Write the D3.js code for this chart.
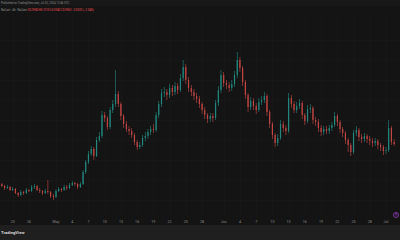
<!DOCTYPE html>
<html>
<head>
<meta charset="utf-8">
<script src="https://cdn.jsdelivr.net/npm/d3@7"></script>
<style>
  html, body { margin: 0; padding: 0; background: #141414; }
  svg { display: block; }
</style>
</head>
<body>
<svg id="chart" width="400" height="240"></svg>
<script>
// 12h candles, first candle opens Apr 20 2024 12:00 UTC
const firstCandle = new Date(Date.UTC(2024, 3, 20, 12));
const firstOpen = 0.055;

const closes = [
  0.056, 0.054, 0.052, 0.053, 0.050, 0.051, 0.047, 0.045, 0.048, 0.047,
  0.050, 0.049, 0.053, 0.054, 0.050, 0.049, 0.047, 0.049, 0.048, 0.044,
  0.043, 0.049, 0.051, 0.050, 0.053, 0.052, 0.055, 0.057, 0.056, 0.053,
  0.056, 0.068, 0.078, 0.086, 0.091, 0.084, 0.100, 0.104, 0.125, 0.122,
  0.113, 0.130, 0.136, 0.146, 0.136, 0.124, 0.116, 0.111, 0.109, 0.105,
  0.098, 0.093, 0.095, 0.102, 0.104, 0.108, 0.111, 0.110, 0.125, 0.136,
  0.147, 0.148, 0.145, 0.152, 0.148, 0.154, 0.150, 0.162, 0.173, 0.160,
  0.152, 0.148, 0.144, 0.141, 0.136, 0.130, 0.125, 0.121, 0.124, 0.122,
  0.137, 0.150, 0.165, 0.157, 0.155, 0.152, 0.156, 0.165, 0.180, 0.172,
  0.158, 0.145, 0.133, 0.139, 0.134, 0.130, 0.138, 0.140, 0.144, 0.128,
  0.116, 0.105, 0.097, 0.102, 0.116, 0.112, 0.109, 0.142, 0.136, 0.130,
  0.134, 0.137, 0.125, 0.119, 0.131, 0.132, 0.120, 0.118, 0.112, 0.108,
  0.111, 0.109, 0.112, 0.115, 0.124, 0.118, 0.111, 0.107, 0.100, 0.095,
  0.088, 0.107, 0.110, 0.103, 0.101, 0.104, 0.101, 0.099, 0.097, 0.099,
  0.095, 0.093, 0.089, 0.090, 0.112, 0.098, 0.096
];

const highs = [
  0.058, 0.057, 0.055, 0.055, 0.054, 0.053, 0.052, 0.048, 0.050, 0.049,
  0.052, 0.051, 0.055, 0.056, 0.055, 0.052, 0.050, 0.051, 0.060, 0.049,
  0.046, 0.051, 0.053, 0.052, 0.055, 0.055, 0.057, 0.059, 0.058, 0.057,
  0.058, 0.070, 0.080, 0.089, 0.094, 0.093, 0.103, 0.108, 0.129, 0.128,
  0.124, 0.133, 0.140, 0.170, 0.149, 0.138, 0.126, 0.119, 0.114, 0.112,
  0.107, 0.100, 0.098, 0.105, 0.108, 0.111, 0.114, 0.116, 0.128, 0.139,
  0.151, 0.153, 0.151, 0.156, 0.155, 0.158, 0.157, 0.166, 0.180, 0.176,
  0.163, 0.155, 0.151, 0.147, 0.144, 0.138, 0.133, 0.127, 0.127, 0.127,
  0.140, 0.154, 0.170, 0.168, 0.160, 0.158, 0.160, 0.169, 0.188, 0.183,
  0.174, 0.160, 0.147, 0.143, 0.142, 0.137, 0.142, 0.144, 0.148, 0.146,
  0.130, 0.118, 0.107, 0.106, 0.120, 0.119, 0.115, 0.147, 0.145, 0.139,
  0.138, 0.141, 0.139, 0.127, 0.135, 0.136, 0.134, 0.123, 0.121, 0.115,
  0.114, 0.114, 0.115, 0.118, 0.128, 0.126, 0.120, 0.113, 0.109, 0.102,
  0.097, 0.110, 0.114, 0.112, 0.106, 0.107, 0.106, 0.104, 0.102, 0.102,
  0.101, 0.097, 0.095, 0.093, 0.120, 0.114, 0.101
];

const lows = [
  0.053, 0.053, 0.050, 0.051, 0.049, 0.049, 0.046, 0.043, 0.044, 0.045,
  0.046, 0.048, 0.048, 0.051, 0.049, 0.047, 0.045, 0.046, 0.046, 0.042,
  0.040, 0.042, 0.048, 0.048, 0.049, 0.050, 0.051, 0.054, 0.054, 0.051,
  0.052, 0.055, 0.066, 0.076, 0.084, 0.080, 0.083, 0.098, 0.102, 0.118,
  0.110, 0.111, 0.127, 0.133, 0.133, 0.120, 0.112, 0.108, 0.105, 0.102,
  0.095, 0.090, 0.091, 0.093, 0.099, 0.101, 0.105, 0.107, 0.108, 0.122,
  0.133, 0.143, 0.140, 0.142, 0.144, 0.145, 0.146, 0.148, 0.159, 0.156,
  0.148, 0.144, 0.140, 0.137, 0.132, 0.126, 0.121, 0.117, 0.118, 0.118,
  0.120, 0.134, 0.147, 0.153, 0.151, 0.148, 0.149, 0.153, 0.162, 0.168,
  0.154, 0.141, 0.128, 0.130, 0.130, 0.126, 0.128, 0.135, 0.137, 0.124,
  0.112, 0.101, 0.093, 0.094, 0.100, 0.108, 0.105, 0.107, 0.132, 0.127,
  0.127, 0.131, 0.121, 0.115, 0.117, 0.127, 0.116, 0.114, 0.108, 0.104,
  0.105, 0.106, 0.106, 0.109, 0.113, 0.114, 0.107, 0.103, 0.096, 0.088,
  0.084, 0.086, 0.104, 0.099, 0.097, 0.098, 0.097, 0.095, 0.093, 0.094,
  0.091, 0.089, 0.085, 0.086, 0.088, 0.095, 0.094
];

const tickDates = [
  [2024, 3, 23], [2024, 3, 26],
  [2024, 4, 1], [2024, 4, 4], [2024, 4, 7], [2024, 4, 10], [2024, 4, 13], [2024, 4, 16],
  [2024, 4, 19], [2024, 4, 22], [2024, 4, 25], [2024, 4, 28],
  [2024, 5, 1], [2024, 5, 4], [2024, 5, 7], [2024, 5, 10], [2024, 5, 13], [2024, 5, 16],
  [2024, 5, 19], [2024, 5, 22], [2024, 5, 25], [2024, 5, 28],
  [2024, 6, 1]
];
const monthNames = ['Jan', 'Feb', 'Mar', 'Apr', 'May', 'Jun', 'Jul', 'Aug', 'Sep', 'Oct', 'Nov', 'Dec'];

const priceTicks = [0.04, 0.06, 0.08, 0.10, 0.12, 0.14, 0.16, 0.18, 0.20];

const titleLine = 'Published on TradingView.com, Jul 02, 2024 13:46 UTC';
const symbolLine = 'NoCoin · 4h · NoCoin';
const ohlcLine = 'O0.0980 H0.1010 L0.0940 C0.0960 −0.0020 (−2.04%)';

const W = 400, H = 240;
const UP = '#26a69a', DOWN = '#ef5350';

const candles = closes.map((c, i) => ({
  t: d3.timeHour.offset(firstCandle, i * 12),
  o: i === 0 ? firstOpen : closes[i - 1],
  h: highs[i],
  l: lows[i],
  c
}));

const svg = d3.select('#chart');

const x = d3.scaleUtc()
    .domain([new Date(Date.UTC(2024, 4, 1)), new Date(Date.UTC(2024, 6, 1))])
    .range([56, 386]);
const y = d3.scaleLinear().domain([0.026, 0.226]).range([214, 14]);

// backgrounds
svg.append('rect').attr('width', W).attr('height', H).attr('fill', '#141414');
svg.append('rect').attr('width', W).attr('height', 6).attr('fill', '#181818');
svg.append('rect').attr('x', 0).attr('y', 225).attr('width', W).attr('height', 15).attr('fill', '#1f1f1f');

// grid (very faint)
const ticks = tickDates.map(d => new Date(Date.UTC(d[0], d[1], d[2])));
svg.append('g').selectAll('line').data(ticks).join('line')
    .attr('x1', d => Math.round(x(d)) + 0.5).attr('x2', d => Math.round(x(d)) + 0.5)
    .attr('y1', 14).attr('y2', 216)
    .attr('stroke', '#171717').attr('stroke-width', 1);
svg.append('g').selectAll('line').data(priceTicks).join('line')
    .attr('x1', 0).attr('x2', W)
    .attr('y1', d => Math.round(y(d)) + 0.5).attr('y2', d => Math.round(y(d)) + 0.5)
    .attr('stroke', '#171717').attr('stroke-width', 1);

// candles
const bw = 1.2;
const g = svg.append('g').attr('opacity', 0.8);
g.selectAll('rect.wick').data(candles).join('rect')
    .attr('class', 'wick')
    .attr('x', d => x(d.t) - 0.3)
    .attr('y', d => y(d.h))
    .attr('width', 0.6)
    .attr('height', d => y(d.l) - y(d.h))
    .attr('fill', d => d.c >= d.o ? UP : DOWN);
g.selectAll('rect.body').data(candles).join('rect')
    .attr('class', 'body')
    .attr('x', d => x(d.t) - bw / 2)
    .attr('y', d => y(Math.max(d.o, d.c)))
    .attr('width', bw)
    .attr('height', d => Math.max(0.7, Math.abs(y(d.o) - y(d.c))))
    .attr('fill', d => d.c >= d.o ? UP : DOWN);

// x axis labels
svg.append('g').selectAll('text').data(ticks).join('text')
    .attr('x', d => x(d)).attr('y', 223)
    .attr('text-anchor', 'middle')
    .attr('font-family', 'Roboto, sans-serif').attr('font-size', 3.6)
    .attr('fill', '#8a8a8a')
    .text(d => d.getUTCDate() === 1 ? monthNames[d.getUTCMonth()] : d.getUTCDate());

// header
svg.append('text')
    .attr('x', 1).attr('y', 3.8)
    .attr('font-family', 'Roboto, sans-serif').attr('font-size', 2.8)
    .attr('fill', '#8a8a8a')
    .text(titleLine);
const hdr = svg.append('text')
    .attr('x', 1).attr('y', 11)
    .attr('font-family', 'Roboto, sans-serif').attr('font-size', 2.8);
hdr.append('tspan').attr('fill', '#9a9a9a').text(symbolLine + '  ');
hdr.append('tspan').attr('fill', DOWN).text(ohlcLine);

// footer logo
svg.append('text')
    .attr('x', 1).attr('y', 233.5)
    .attr('font-family', 'Roboto, sans-serif').attr('font-size', 4.2).attr('font-weight', 'bold')
    .attr('fill', '#d8d8d8')
    .text('TradingView');

// small purple badge bottom right
svg.append('circle')
    .attr('cx', 396).attr('cy', 215).attr('r', 2.6)
    .attr('fill', '#2a1634').attr('stroke', '#8e3fb0').attr('stroke-width', 0.7);
svg.append('text')
    .attr('x', 396).attr('y', 216.3)
    .attr('text-anchor', 'middle')
    .attr('font-family', 'Roboto, sans-serif').attr('font-size', 3.4)
    .attr('fill', '#b070d0')
    .text('?');
</script>
</body>
</html>
